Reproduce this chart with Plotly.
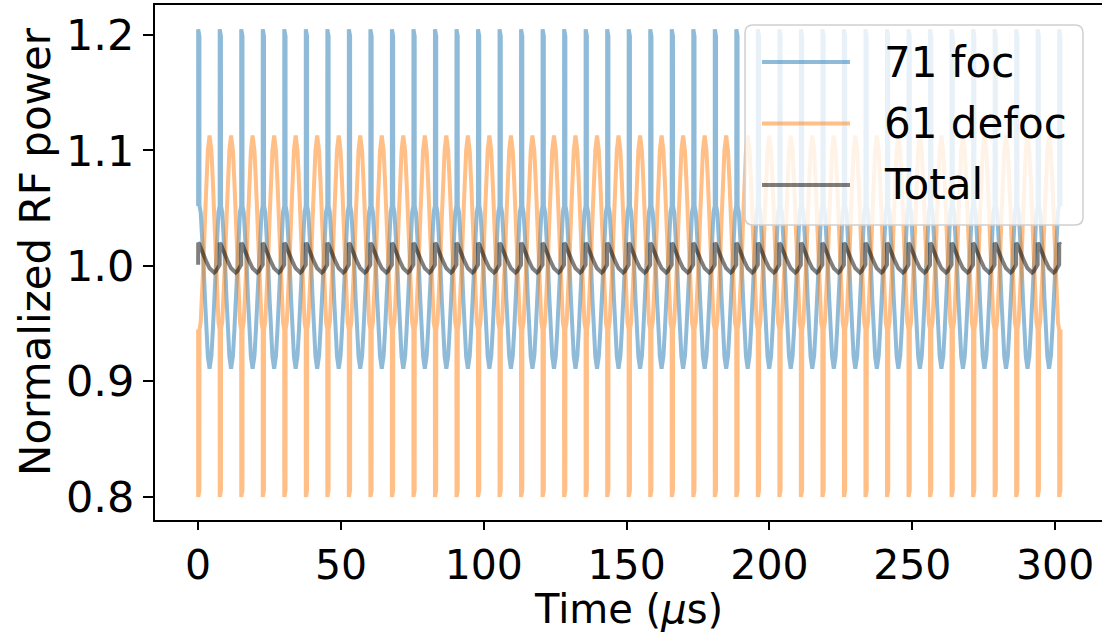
import numpy as np
import plotly.graph_objects as go

# Pulse train: one RF cycle repeats every `period_us`, starting with the short pulse
period_us = 7.535
n_cycles = 41
t_end = 302.0

# One cycle of each signal: (time within cycle in µs, normalized power)
phase_foc = [0.0, 0.02, 0.45, 0.47, 0.9, 1.4, 1.9, 2.4, 2.9, 3.4, 4.0, 4.65, 5.15, 5.65, 6.15, 6.65, 7.12]
power_foc = [1.052, 1.205, 1.199, 1.052, 1.0464, 1.0287, 1.0020, 0.9716, 0.9431, 0.9216, 0.911,
             0.9223, 0.9443, 0.973, 1.0036, 1.0297, 1.0468]

phase_defoc = [0.0, 0.02, 0.45, 0.47, 0.9, 1.4, 1.9, 2.4, 2.9, 3.4, 4.0, 4.65, 5.15, 5.65, 6.15, 6.65, 7.12]
power_defoc = [0.945, 0.800, 0.806, 0.945, 0.9517, 0.9728, 1.0046, 1.0408, 1.0748, 1.1003, 1.113,
               1.0996, 1.0734, 1.0391, 1.0027, 0.9715, 0.9511]

phase_total = [0.0, 0.02, 0.45, 0.47, 1.1, 2.0, 3.0, 4.0, 5.0, 5.6, 6.2, 6.8, 7.3]
power_total = [1.001, 1.020, 1.019, 1.0185, 1.0145, 1.0085, 1.003, 0.998, 0.995, 0.9942, 0.9955,
               0.9985, 1.0005]

x_ticks = [0, 50, 100, 150, 200, 250, 300]
y_ticks = [0.8, 0.9, 1.0, 1.1, 1.2]
legend_names = ["71 foc", "61 defoc", "Total"]
colors = ["rgba(31,119,180,0.5)", "rgba(255,127,14,0.5)", "rgba(0,0,0,0.5)"]


def pulse_train(phase, power):
    t, v = [], []
    for k in range(n_cycles):
        for p, y in zip(phase, power):
            tt = k * period_us + p
            if tt <= t_end:
                t.append(tt)
                v.append(y)
    return np.array(t), np.array(v)


series = [pulse_train(phase_foc, power_foc),
          pulse_train(phase_defoc, power_defoc),
          pulse_train(phase_total, power_total)]

FONT = "DejaVu Sans"
fig = go.Figure()
for (t, v), name, col in zip(series, legend_names, colors):
    fig.add_trace(go.Scatter(x=t, y=v, mode="lines", name=name,
                             line=dict(color=col, width=4), showlegend=False))

# Plot-area geometry in pixels (used for the hand-drawn legend and axis titles)
W, H = 1102, 636
ml, mr, mt, mb = 155, 0, 5, 116
pw, ph = W - ml - mr, H - mt - mb


def px(xp):
    return (xp - ml) / pw


def py(yp):
    return (H - mb - yp) / ph


# Legend box with rounded corners
x0, x1, y0, y1, r = 745, 1083, 25, 225, 8
rx, ry = r / pw, r / ph
X0, X1, Y0, Y1 = px(x0), px(x1), py(y0), py(y1)
path = (f"M{X0+rx},{Y0} L{X1-rx},{Y0} Q{X1},{Y0} {X1},{Y0-ry} "
        f"L{X1},{Y1+ry} Q{X1},{Y1} {X1-rx},{Y1} L{X0+rx},{Y1} Q{X0},{Y1} {X0},{Y1+ry} "
        f"L{X0},{Y0-ry} Q{X0},{Y0} {X0+rx},{Y0} Z")
shapes = [dict(type="path", path=path, xref="paper", yref="paper",
               fillcolor="rgba(255,255,255,0.8)", line=dict(color="#d0d0d0", width=1.5),
               layer="above")]
annotations = []
for i, (name, col) in enumerate(zip(legend_names, colors)):
    yrow = 62 + i * 61.5
    shapes.append(dict(type="line", xref="paper", yref="paper",
                       x0=px(762), x1=px(850), y0=py(yrow), y1=py(yrow),
                       line=dict(color=col, width=4), layer="above"))
    annotations.append(dict(text=name, xref="paper", yref="paper", x=px(882), y=py(yrow),
                            xanchor="left", yanchor="middle", showarrow=False,
                            font=dict(family=FONT, size=42, color="black")))

# Axis titles
annotations.append(dict(text="Time (<i>μ</i>s)", xref="paper", yref="paper",
                        x=px(628), y=py(609), xanchor="center", yanchor="middle",
                        showarrow=False, font=dict(family=FONT, size=40, color="black")))
annotations.append(dict(text="Normalized RF power", xref="paper", yref="paper",
                        x=px(36), y=py(252), xanchor="center", yanchor="middle",
                        textangle=-90, showarrow=False,
                        font=dict(family=FONT, size=42, color="black")))

fig.update_layout(
    width=W, height=H,
    margin=dict(l=ml, r=mr, t=mt, b=mb),
    paper_bgcolor="white", plot_bgcolor="white",
    font=dict(family=FONT, size=42, color="black"),
    shapes=shapes, annotations=annotations,
    xaxis=dict(range=[-15.1, 316.4], tickvals=x_ticks, ticks="outside", ticklen=8,
               tickwidth=2, tickcolor="black", showgrid=False, zeroline=False,
               showline=True, linecolor="black", linewidth=2, mirror=True,
               tickfont=dict(family=FONT, size=41)),
    yaxis=dict(range=[0.78, 1.226], tickvals=y_ticks, tickformat=".1f", ticks="outside",
               ticklen=10, tickwidth=2, tickcolor="black", showgrid=False, zeroline=False,
               showline=True, linecolor="black", linewidth=2,
               tickfont=dict(family=FONT, size=43)),
)

fig.write_html("out.html")
